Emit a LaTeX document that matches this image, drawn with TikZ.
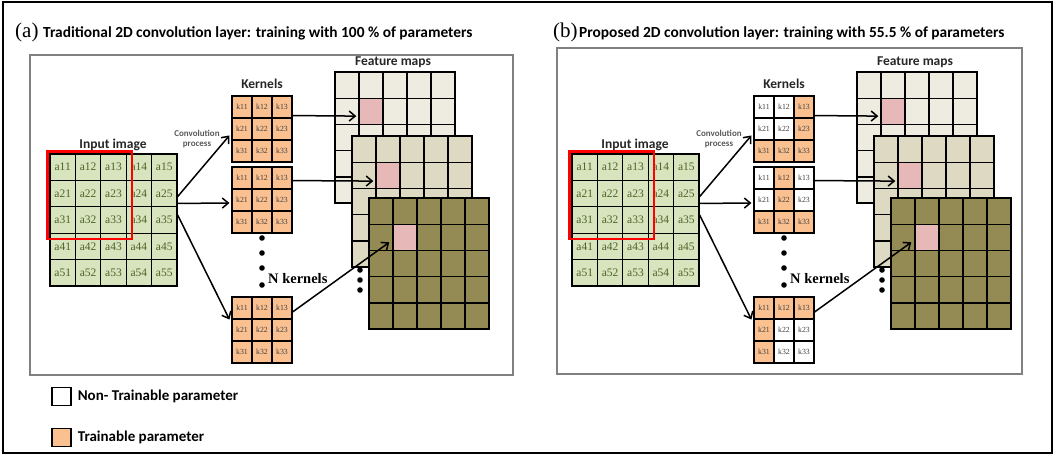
\documentclass[tikz,border=0pt]{standalone}
\usepackage{fontspec}
\setmainfont{Liberation Serif}
\newfontfamily\calibri{Carlito}
\usetikzlibrary{positioning,calc,arrows.meta}

\definecolor{imgcell}{HTML}{D7E4BD}
\definecolor{imgtext}{HTML}{4F6228}
\definecolor{kt}{HTML}{FAC090}
\colorlet{kn}{white}
\definecolor{fmA}{HTML}{EEECE1}
\definecolor{fmB}{HTML}{DDD9C3}
\definecolor{fmC}{HTML}{948A54}
\definecolor{fmhit}{HTML}{E6B9B8}

% one 3x3 kernel: #1 panel, #2 kernel no., #3 top, #4 fills (t/n)
\newcommand{\kernel}[4]{%
  \foreach[count=\i] \f in {#4}{
    \pgfmathtruncatemacro\row{(\i-1)/3+1}
    \pgfmathtruncatemacro\col{\i-3*(\row-1)}
    \node[kcell,fill=k\f] (#1k#2\row\col) at (232+20*\col-10,#3+22*\row-11) {k\row\col};
  }}

% one 5x5 feature map: #1 panel, #2 map no., #3 left, #4 top, #5 fill
\newcommand{\fmap}[5]{%
  \foreach \row in {1,...,5}
    \foreach \col in {1,...,5}{
      \ifnum\row\col=22 \def\fc{fmhit}\else\def\fc{#5}\fi
      \node[fcell,fill=\fc] (#1f#2\row\col) at (#3+24*\col-12,#4+26.2*\row-13.1) {};
    }}

% whole panel: #1 panel, #2-#4 kernel fills
\newcommand{\convpanel}[4]{%
  % input image
  \foreach \row in {1,...,5}
    \foreach \col in {1,...,5}
      \node[icell] (#1in\row\col) at (50+25.4*\col-12.7,154+26.4*\row-13.2) {a\row\col};
  \draw[red,line width=2.6pt] ($(#1in11.north west)+(-2,-2)$) rectangle ($(#1in33.south east)+(5,5)$);
  \node[head] (#1inlbl) at (113,148) {Input image};
  % kernels
  \kernel{#1}{1}{96}{#2}
  \kernel{#1}{2}{167}{#3}
  \kernel{#1}{3}{297}{#4}
  \node[head] (#1klbl) at (262,88) {Kernels};
  \node[note] (#1conv) at (197,136) {Convolution};
  \node[note] (#1proc) at (197,146) {process};
  \foreach \y in {238,253,268,285} \fill (262,\y) circle (2.8pt);
  \node[font=\bfseries\fontsize{14.5}{15}\selectfont,anchor=base west,inner sep=0pt] (#1nk) at (268,283) {N kernels};
  % feature maps
  \fmap{#1}{1}{335}{72}{fmA}
  \fmap{#1}{2}{352}{136}{fmB}
  \fmap{#1}{3}{369}{198}{fmC}
  \node[head] (#1flbl) at (393,65) {Feature maps};
  \foreach \y in {270,280,290} \fill (360,\y) circle (2.8pt);
  % connections
  \draw[arr] ($(#1in25.east)+(0,3)$) -- ($(#1k131.north west)+(-2,-4)$);
  \draw[arr] ($(#1in25.south east)+(0,-4)$) -- ($(#1k221.west)+(-2,3)$);
  \draw[arr] ($(#1in35.east)+(0,-5)$) -- ($(#1k311.south west)+(-2,0)$);
  \draw[arr] ($(#1k113.south east)+(0,-3)$) -- ($(#1f122.south west)+(-2,-9)$);
  \draw[arr] ($(#1k213.south east)+(0,-9)$) -- ($(#1f222.south west)+(-2,-8)$);
  \draw[arr] ($(#1k313.east)+(0,4)$) -- ($(#1f322.west)+(-3,5)$);
}

\begin{document}
\begin{tikzpicture}[x=1pt,y=-1pt,
  icell/.style={draw,line width=1.3pt,fill=imgcell,minimum width=25.4pt,minimum height=26.4pt,
    inner sep=0pt,text=imgtext,font=\fontsize{11.5}{12}\selectfont},
  kcell/.style={draw,line width=1.1pt,minimum width=20pt,minimum height=22pt,inner sep=0pt,
    text=black!75,font=\fontsize{7.8}{8}\selectfont},
  fcell/.style={draw,line width=1.4pt,minimum width=24pt,minimum height=26.2pt,inner sep=0pt},
  head/.style={font=\calibri\bfseries\fontsize{13.5}{14}\selectfont,anchor=base,inner sep=0pt,text=black!85},
  note/.style={font=\calibri\bfseries\fontsize{9}{10}\selectfont,anchor=base,inner sep=0pt,text=black!65},
  ttl/.style={font=\calibri\bfseries\fontsize{15.4}{16}\selectfont,anchor=base west,inner sep=0pt},
  tag/.style={font=\fontsize{21}{21}\selectfont,anchor=base west,inner sep=0pt},
  box/.style={draw=black!50,line width=1.2pt},
  lgd/.style={draw,line width=1.3pt,minimum width=19pt,minimum height=18pt,inner sep=0pt},
  lgtext/.style={font=\calibri\bfseries\fontsize{15}{16}\selectfont,inner sep=0pt},
  arr/.style={-{Straight Barb[length=6pt,width=10pt]},line width=1.5pt}]
  \useasboundingbox (0,0) rectangle (1055,455);
  \draw[line width=2.5pt] (3,2) rectangle (1052,453);

  % (a) traditional layer
  \node[tag] (taga) at (15,37) {(a)};
  \node[ttl] (ttla) at (43,37) {Traditional 2D convolution layer: training with 100 \% of parameters};
  \draw[box] (30,55) rectangle (513,375);
  \convpanel{a}{t,t,t,t,t,t,t,t,t}{t,t,t,t,t,t,t,t,t}{t,t,t,t,t,t,t,t,t}

  % (b) proposed layer
  \node[tag] (tagb) at (553,37) {(b)};
  \node[ttl] (ttlb) at (579,37) {Proposed 2D convolution layer: training with 55.5 \% of parameters};
  \draw[box] (557,48) rectangle (1022,374);
  \begin{scope}[xshift=522pt]
    \convpanel{b}{n,n,t,n,n,t,t,t,t}{n,t,n,n,t,n,t,t,t}{t,t,t,t,n,n,t,n,n}
  \end{scope}

  % legend
  \node[lgd,fill=white] (nsq) at (61.5,396.5) {};
  \node[lgtext,right=6pt of nsq] (ntxt) {Non- Trainable parameter};
  \node[lgd,fill=kt] (tsq) at (61.5,437.5) {};
  \node[lgtext,right=6pt of tsq] (ttxt) {Trainable parameter};
\end{tikzpicture}
\end{document}
